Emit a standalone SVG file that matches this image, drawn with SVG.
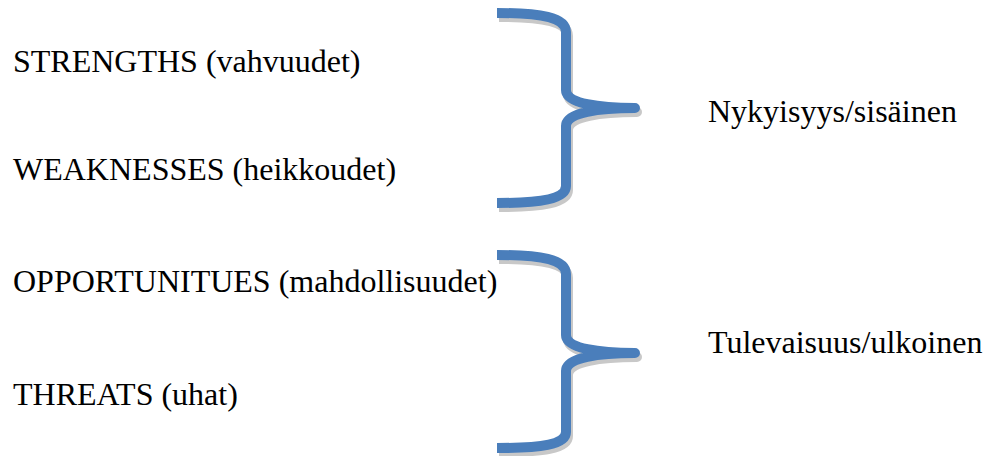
<svg xmlns="http://www.w3.org/2000/svg" width="989" height="456" viewBox="0 0 989 456">
  <style>
    .label { font-family: "Liberation Serif", "Times New Roman", serif; font-size: 32px; fill: #000; }
    .brace { fill: none; stroke: #4a7ebb; stroke-width: 10; stroke-linecap: butt; stroke-linejoin: round; }
    .shadow { fill: none; stroke: #c8c8c8; stroke-width: 10; stroke-linecap: butt; stroke-linejoin: round; }
  </style>
  <defs>
    <!-- right-facing curly braces, drawn as one continuous stroke with a cusp at the tip -->
    <path id="brace1" d="M497,13 C540,13 566,17 566,32 L566,90 C566,104 600,108 635,108 C600,108 566,112 566,126 L566,186 C566,199 540,203 497,203"/>
    <path id="brace2" d="M497,255 C540,255 566,259 566,274 L566,335 C566,349 600,353 635,353 C600,353 566,357 566,371 L566,432 C566,445 540,448 497,448"/>
  </defs>
  <rect width="989" height="456" fill="#fff"/>

  <g id="connectors">
    <g id="brace-present">
      <use href="#brace1" class="shadow" transform="translate(2,4)"/>
      <use href="#brace1" class="brace"/>
    </g>
    <g id="brace-future">
      <use href="#brace2" class="shadow" transform="translate(2,4)"/>
      <use href="#brace2" class="brace"/>
    </g>
  </g>

  <g id="strengths"><text class="label" x="13" y="72">STRENGTHS (vahvuudet)</text></g>
  <g id="weaknesses"><text class="label" x="13" y="180">WEAKNESSES (heikkoudet)</text></g>
  <g id="opportunities"><text class="label" x="13" y="292">OPPORTUNITUES (mahdollisuudet)</text></g>
  <g id="threats"><text class="label" x="13" y="405">THREATS (uhat)</text></g>
  <g id="present"><text class="label" x="708" y="122">Nykyisyys/sisäinen</text></g>
  <g id="future"><text class="label" x="708" y="353">Tulevaisuus/ulkoinen</text></g>
</svg>
